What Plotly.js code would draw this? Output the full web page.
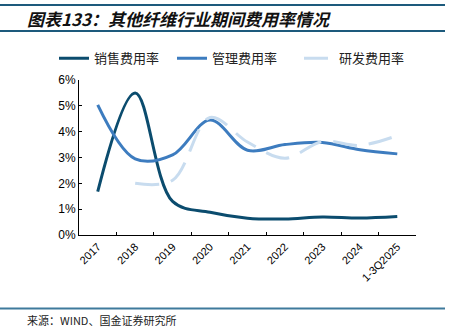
<!DOCTYPE html>
<html>
<head>
<meta charset="utf-8">
<script src="https://cdn.plot.ly/plotly-3.0.1.min.js"></script>
<style>
html,body{margin:0;padding:0;background:#fff;}
#chart{width:458px;height:330px;}
</style>
</head>
<body>
<div id="chart"></div>
<script>
const categories = ["2017","2018","2019","2020","2021","2022","2023","2024","1-3Q2025"];
const salesRate = [1.68, 5.5, 1.3, 0.88, 0.65, 0.62, 0.70, 0.66, 0.72];
const adminRate = [5.04, 2.95, 3.1, 4.45, 3.28, 3.5, 3.58, 3.3, 3.14];
const rdRate = [null, 2.0, 2.12, 4.55, 3.6, 2.97, 3.62, 3.47, 3.85];
const yTickVals = [0,1,2,3,4,5,6];
const yTickText = ["0%","1%","2%","3%","4%","5%","6%"];
const seriesNames = ["销售费用率","管理费用率","研发费用率"];

const lineFont = "Liberation Sans, Arial, sans-serif";
const cjk = "Noto Sans CJK SC, sans-serif";

const traces = [
  {x: categories, y: salesRate, name: seriesNames[0], type: "scatter", mode: "lines", legend: "legend",
   line: {color: "#0b4c6e", width: 3, shape: "spline", smoothing: 1}},
  {x: categories, y: adminRate, name: seriesNames[1], type: "scatter", mode: "lines", legend: "legend2",
   line: {color: "#3d7cbf", width: 3, shape: "spline", smoothing: 1}},
  {x: categories, y: rdRate, name: seriesNames[2], type: "scatter", mode: "lines", legend: "legend3",
   line: {color: "#c8dcef", width: 3, shape: "spline", smoothing: 1, dash: "24px,12px"}}
];

function legendAt(px) {
  return {orientation: "h", x: (px - 79) / 337, xanchor: "left", y: 1.14, yanchor: "middle",
    font: {family: cjk, size: 13, color: "#222"}, itemwidth: 30,
    bgcolor: "rgba(0,0,0,0)"};
}

const layout = {
  width: 458, height: 330,
  margin: {l: 79, r: 42, t: 80, b: 95},
  paper_bgcolor: "#fff", plot_bgcolor: "#fff",
  showlegend: true,
  legend: legendAt(54),
  legend2: legendAt(172),
  legend3: legendAt(299),
  xaxis: {type: "category", range: [-0.5, 8.5], tickson: "boundaries",
    ticks: "inside", ticklen: 3, tickcolor: "#000", tickwidth: 1,
    showline: true, linecolor: "#000", linewidth: 1, showgrid: false, zeroline: false,
    tickangle: -45, tickfont: {family: lineFont, size: 11, color: "#000"}, fixedrange: true},
  yaxis: {range: [0, 6], tickvals: yTickVals, ticktext: yTickText,
    ticks: "inside", ticklen: 3, tickcolor: "#000", tickwidth: 1,
    showline: true, linecolor: "#000", linewidth: 1, showgrid: false, zeroline: false,
    tickfont: {family: lineFont, size: 12, color: "#000"}, fixedrange: true},
  shapes: [
    {type: "line", xref: "paper", yref: "paper", x0: -79/337, x1: (445-79)/337,
     y0: 1 + 75/155, y1: 1 + 75/155, line: {color: "#1d5a7c", width: 2}},
    {type: "line", xref: "paper", yref: "paper", x0: -79/337, x1: (445-79)/337,
     y0: 1 + 49/155, y1: 1 + 49/155, line: {color: "#1d5a7c", width: 2}},
    {type: "line", xref: "paper", yref: "paper", x0: -79/337, x1: (445-79)/337,
     y0: -73.5/155, y1: -73.5/155, line: {color: "#3f7a9c", width: 2}}
  ],
  annotations: [
    {text: "<b><i>图表133：其他纤维行业期间费用率情况</i></b>", xref: "paper", yref: "paper",
     x: (25-79)/337, y: 1 + 62/155, xanchor: "left", yanchor: "middle", showarrow: false,
     font: {family: cjk, size: 17, color: "#111"}},
    {text: "来源：WIND、国金证券研究所", xref: "paper", yref: "paper",
     x: (25-79)/337, y: -85/155, xanchor: "left", yanchor: "middle", showarrow: false,
     font: {family: cjk, size: 11, color: "#222"}}
  ]
};

Plotly.newPlot("chart", traces, layout, {displayModeBar: false, staticPlot: true});
</script>
</body>
</html>
